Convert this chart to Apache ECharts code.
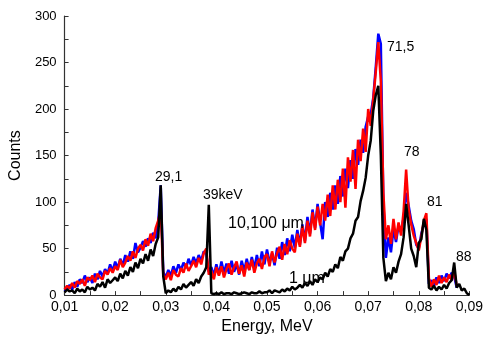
<!DOCTYPE html>
<html>
<head>
<meta charset="utf-8">
<script src="https://cdn.jsdelivr.net/npm/echarts@6/dist/echarts.min.js"></script>
<style>html,body{margin:0;padding:0;background:#fff}#c{width:486px;height:340px}</style>
</head>
<body>
<div id="c"></div>
<script>
// Energy sample positions (MeV)
var energy = [
0.0100,0.0105,0.0110,0.0115,0.0120,0.0125,0.0130,0.0135,0.0140,0.0145,
0.0150,0.0155,0.0160,0.0165,0.0170,0.0175,0.0180,0.0185,0.0190,0.0195,
0.0200,0.0205,0.0210,0.0215,0.0220,0.0225,0.0230,0.0235,0.0240,0.0245,
0.0250,0.0255,0.0260,0.0265,0.0270,0.0275,0.0280,0.0285,0.0290,0.0295,
0.0300,0.0305,0.0310,0.0315,0.0320,0.0325,0.0330,0.0335,0.0340,0.0345,
0.0350,0.0355,0.0360,0.0365,0.0370,0.0375,0.0380,0.0385,0.0390,0.0395,
0.0400,0.0405,0.0410,0.0415,0.0420,0.0425,0.0430,0.0435,0.0440,0.0445,
0.0450,0.0455,0.0460,0.0465,0.0470,0.0475,0.0480,0.0485,0.0490,0.0495,
0.0500,0.0505,0.0510,0.0515,0.0520,0.0525,0.0530,0.0535,0.0540,0.0545,
0.0550,0.0555,0.0560,0.0565,0.0570,0.0575,0.0580,0.0585,0.0590,0.0595,
0.0600,0.0605,0.0610,0.0615,0.0620,0.0625,0.0630,0.0635,0.0640,0.0645,
0.0650,0.0655,0.0660,0.0665,0.0670,0.0675,0.0680,0.0685,0.0690,0.0695,
0.0700,0.0705,0.0710,0.0715,0.0720,0.0725,0.0730,0.0735,0.0740,0.0745,
0.0750,0.0755,0.0760,0.0765,0.0770,0.0775,0.0780,0.0785,0.0790,0.0795,
0.0800,0.0805,0.0810,0.0815,0.0820,0.0825,0.0830,0.0835,0.0840,0.0845,
0.0850,0.0855,0.0860,0.0865,0.0870,0.0875,0.0880,0.0885,0.0890,0.0895,
0.0900
];

// 100 um (blue)
var blue = [
4,7,11,6,14,9,17,13,21,14,
19,13,23,17,26,20,28,23,33,26,
36,29,39,32,43,36,47,39,56,46,
51,58,52,61,56,67,61,78,118,25,
19,27,21,31,24,33,27,35,29,39,
32,41,34,43,37,47,44,25,
30,21,33,22,36,24,34,23,37,25,
33,22,37,26,39,27,41,29,43,31,
47,33,
49,35,45,32,51,39,57,43,61,47,
65,51,70,54,76,58,84,66,92,72,
98,78,60,100,84,110,92,118,98,128,
106,136,115,145,125,157,140,167,153,181,
192,194,212,245,
281,270,100,40,62,46,71,57,75,69,
83,110,96,80,71,54,50,66,76,82,
12,16,10,19,13,21,15,23,18,24,
20,8
];

// 10 um (red)
var red = [
6,10,7,13,8,15,12,17,10,19,
16,21,14,23,19,17,26,22,29,24,
31,27,38,30,35,42,37,47,40,50,
54,48,60,53,66,58,72,80,92,22,
17,24,16,27,22,20,29,24,34,26,
31,37,30,40,33,45,50,22,
26,17,30,21,31,19,28,34,22,30,
36,23,32,20,35,27,38,24,34,39,
28,41,
44,31,47,35,45,52,38,55,44,59,
50,46,66,52,74,56,80,63,89,70,
95,75,98,80,108,85,118,92,124,100,
136,94,148,122,156,114,167,144,179,154,
200,182,210,240,
272,230,110,60,75,55,82,60,78,64,
90,135,92,76,64,56,48,63,80,88,
18,9,17,11,21,13,19,14,22,16,
26,10
];

// 1 um (black)
var black = [
3,6,4,5,2,7,4,6,3,9,
6,8,5,12,9,14,8,17,13,16,
19,15,23,18,26,21,30,25,35,29,
39,34,44,37,49,42,55,62,118,20,
2,5,3,7,4,9,6,12,8,11,
14,10,17,13,20,24,30,97,
2,1,2,1,3,1,2,2,1,3,
2,1,2,3,2,1,3,2,2,4,
2,3,
3,5,2,5,4,3,6,4,7,5,
9,6,8,11,8,13,10,15,11,17,
14,19,17,24,20,28,25,33,29,41,
37,47,50,61,66,80,84,101,112,126,
150,166,198,215,
225,150,40,15,24,17,30,24,36,44,
62,98,75,50,42,30,56,60,82,70,
8,6,10,5,9,6,11,7,13,16,
35,8,12,5,7,2,
0
];

var xTicks = ['0,01','0,02','0,03','0,04','0,05','0,06','0,07','0,08','0,09'];

function pairs(vals) {
  var out = [];
  for (var i = 0; i < vals.length; i++) out.push([energy[i], vals[i]]);
  return out;
}

var chart = echarts.init(document.getElementById('c'), null, {renderer: 'canvas'});
var FONT = 'Liberation Sans, Arial, sans-serif';
var axisColor = '#333';

function txt(x, y, s, size) {
  return {type: 'text', left: x, top: y, style: {text: s, fontFamily: FONT, fontSize: size || 14, fill: '#000'}, z: 100};
}

chart.setOption({
  animation: false,
  backgroundColor: '#fff',
  grid: {left: 63, right: 15, top: 16, bottom: 39, containLabel: false},
  xAxis: {
    type: 'value', min: 0.01, max: 0.09, interval: 0.01,
    name: 'Energy, MeV', nameLocation: 'middle', nameGap: 22,
    nameTextStyle: {fontFamily: FONT, fontSize: 16, color: '#000'},
    axisLine: {lineStyle: {color: axisColor, width: 1.2}},
    axisTick: {inside: true, length: 4, lineStyle: {color: axisColor}},
    minorTick: {show: true, splitNumber: 2, length: 4, lineStyle: {color: axisColor}},
    axisLabel: {fontFamily: FONT, fontSize: 14, color: '#000', margin: 5,
      formatter: function (v) { var k = Math.round((v - 0.01) / 0.01); return xTicks[k] || ''; }},
    splitLine: {show: false}
  },
  yAxis: {
    type: 'value', min: 0, max: 300, interval: 50,
    name: 'Counts', nameLocation: 'middle', nameGap: 34, nameRotate: 90,
    nameTextStyle: {fontFamily: FONT, fontSize: 16, color: '#000'},
    axisLine: {show: true, lineStyle: {color: axisColor, width: 1.2}},
    axisTick: {show: true, inside: true, length: 4, lineStyle: {color: axisColor}},
    minorTick: {show: true, splitNumber: 2, length: 4, lineStyle: {color: axisColor}},
    axisLabel: {fontFamily: FONT, fontSize: 13, color: '#000', margin: 8},
    splitLine: {show: false}
  },
  series: [
    {name: '100 um', type: 'line', data: pairs(blue), showSymbol: false, symbol: 'none',
     lineStyle: {color: '#0000ff', width: 2.5}, z: 2},
    {name: '10 um', type: 'line', data: pairs(red), showSymbol: false, symbol: 'none',
     lineStyle: {color: '#ff0000', width: 2.5}, z: 3},
    {name: '1 um', type: 'line', data: pairs(black), showSymbol: false, symbol: 'none',
     lineStyle: {color: '#000000', width: 2.5}, z: 4}
  ],
  graphic: [
    txt(155, 170, '29,1', 14),
    txt(203, 188, '39keV', 14),
    txt(228, 216, '10,100 μm', 16),
    txt(289, 271, '1 μm', 16),
    txt(387, 40, '71,5', 14),
    txt(404, 145, '78', 14),
    txt(427, 195, '81', 14),
    txt(456, 250, '88', 14)
  ]
});
</script>
</body>
</html>
